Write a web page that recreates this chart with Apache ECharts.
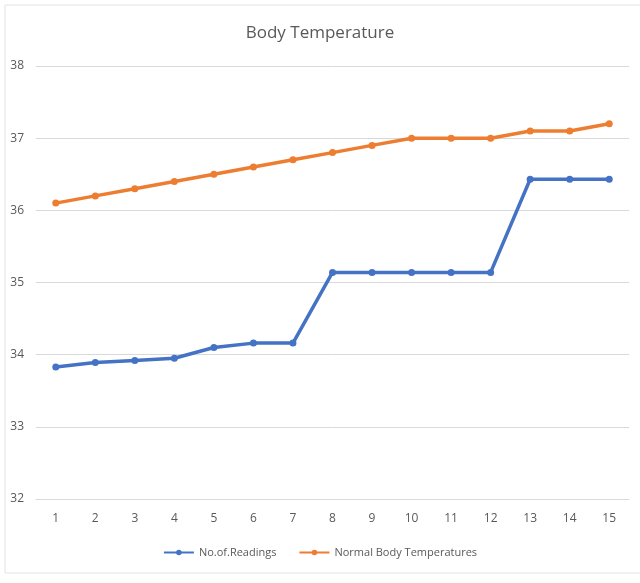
<!DOCTYPE html>
<html>
<head>
<meta charset="utf-8">
<script src="https://cdn.jsdelivr.net/npm/echarts@6/dist/echarts.min.js"></script>
<style>
  html, body { margin: 0; padding: 0; background: #fff; }
  #main { width: 640px; height: 583px; }
</style>
</head>
<body>
<div id="main"></div>
<script>
  // data
  var days = ['1','2','3','4','5','6','7','8','9','10','11','12','13','14','15'];
  var readings = [33.83, 33.89, 33.92, 33.95, 34.1, 34.16, 34.16, 35.14, 35.14, 35.14, 35.14, 35.14, 36.43, 36.43, 36.43];
  var normalTemps = [36.1, 36.2, 36.3, 36.4, 36.5, 36.6, 36.7, 36.8, 36.9, 37.0, 37.0, 37.0, 37.1, 37.1, 37.2];

  var font = '"Open Sans", sans-serif';
  var myChart = echarts.init(document.getElementById('main'));

  var option = {
    animation: false,
    title: {
      text: 'Body Temperature',
      left: 'center',
      top: 20,
      textStyle: { color: '#595959', fontSize: 17, fontWeight: 'normal', fontFamily: font }
    },
    color: ['#4472c4', '#ed7d31'],
    // faint outline of the chart box
    graphic: [{
      type: 'rect',
      shape: { x: 5, y: 5, width: 640, height: 568 },
      style: { fill: 'none', stroke: '#e3e3e3', lineWidth: 1 },
      silent: true
    }],
    legend: {
      bottom: 20,
      left: 'center',
      itemWidth: 30,
      itemHeight: 7,
      itemGap: 22,
      textStyle: { color: '#595959', fontSize: 11, fontFamily: font },
      data: ['No.of.Readings', 'Normal Body Temperatures']
    },
    grid: { left: 36, right: 11, top: 66, bottom: 84 },
    xAxis: {
      type: 'category',
      boundaryGap: true,
      data: days,
      axisLine: { lineStyle: { color: '#d9d9d9' } },
      axisTick: { show: false },
      axisLabel: { color: '#595959', fontSize: 12, margin: 14, fontFamily: font }
    },
    yAxis: {
      type: 'value',
      min: 32,
      max: 38,
      interval: 1,
      axisLine: { show: false },
      axisTick: { show: false },
      splitLine: { lineStyle: { color: '#d9d9d9' } },
      axisLabel: { color: '#595959', fontSize: 12, margin: 12, fontFamily: font }
    },
    series: [
      {
        name: 'No.of.Readings',
        type: 'line',
        data: readings,
        symbol: 'circle',
        symbolSize: 7,
        lineStyle: { width: 3.5 }
      },
      {
        name: 'Normal Body Temperatures',
        type: 'line',
        data: normalTemps,
        symbol: 'circle',
        symbolSize: 7,
        lineStyle: { width: 3.5 }
      }
    ]
  };

  myChart.setOption(option);
</script>
</body>
</html>
